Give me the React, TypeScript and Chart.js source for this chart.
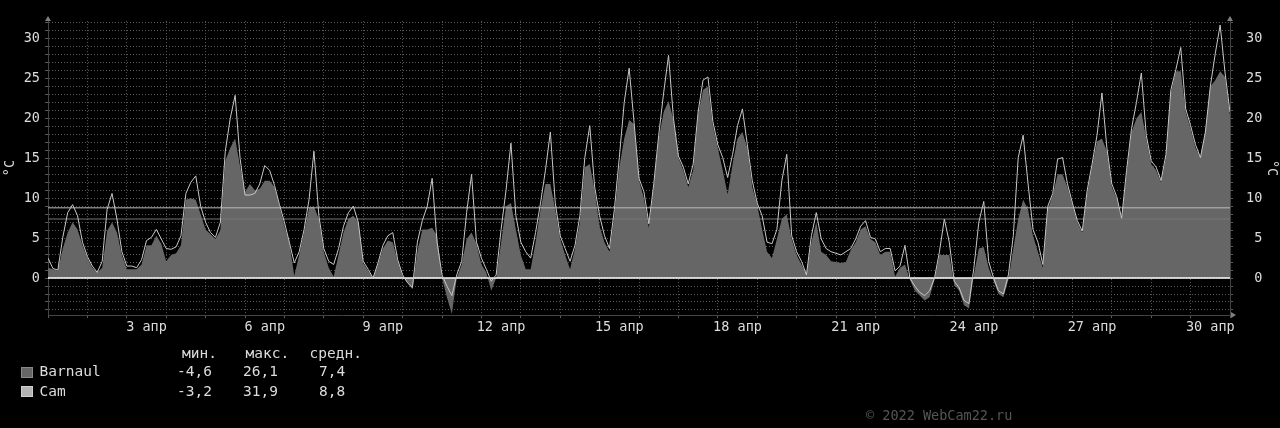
import React, { useEffect, useRef } from "react";
import { Chart, registerables } from "chart.js";

Chart.register(...registerables);

// time axis: samples every 3 hours from 1 апр 00:00 to 1 мая 00:00
const HOURS_PER_SAMPLE = 3;
const TOTAL_HOURS = 720;

const barnaul = [
  1.3, 1.1, 0.9, 3.7, 5.7, 7.0, 6.1, 4.1, 2.5, 1.3,
  0.7, 1.3, 5.9, 7.0, 5.7, 2.9, 1.1, 1.1, 1.1, 1.7,
  4.1, 4.1, 5.3, 4.3, 2.1, 2.9, 3.1, 4.1, 9.8, 10.0,
  9.8, 8.0, 6.1, 5.5, 4.9, 6.0, 14.7, 16.3, 17.5, 14.0,
  10.8, 11.8, 11.0, 11.2, 12.2, 12.2, 11.4, 9.0, 6.5, 4.5,
  0.3, 2.9, 5.7, 8.8, 9.0, 7.4, 3.3, 1.3, 0.2, 2.9,
  5.7, 7.4, 7.8, 7.0, 1.9, 0.9, 0.0, 1.7, 3.7, 4.7,
  4.5, 2.1, 0.2, -0.6, -1.4, 3.3, 6.1, 6.1, 6.3, 5.3,
  0.0, -2.4, -4.5, 0.0, 1.7, 4.9, 5.7, 4.3, 1.7, 0.7,
  -1.6, 0.0, 4.5, 9.0, 9.4, 6.1, 2.9, 1.1, 1.1, 4.5,
  8.6, 11.8, 11.8, 8.6, 4.9, 2.9, 1.1, 3.7, 7.0, 13.9,
  14.3, 11.0, 6.5, 4.5, 3.3, 7.8, 13.9, 17.5, 19.8, 19.3,
  12.3, 10.0, 6.3, 11.4, 17.5, 20.8, 22.2, 19.8, 15.1, 13.5,
  11.4, 13.5, 20.4, 23.6, 24.0, 19.1, 16.3, 13.5, 10.5, 14.3,
  17.5, 18.3, 16.3, 11.4, 9.2, 6.1, 3.3, 2.5, 4.9, 7.4,
  8.0, 4.9, 2.9, 1.7, 0.4, 4.5, 7.0, 3.3, 2.9, 2.1,
  2.0, 1.9, 2.0, 3.5, 4.5, 6.1, 6.5, 4.9, 4.5, 2.9,
  3.3, 3.3, 0.2, 1.3, 1.7, -0.2, -1.6, -2.2, -2.8, -2.4,
  -0.2, 2.9, 2.9, 2.9, -0.8, -1.6, -3.4, -3.8, 0.4, 3.7,
  3.9, 1.3, -0.4, -2.0, -2.4, -0.2, 3.7, 7.4, 9.8, 8.6,
  5.3, 3.3, 1.3, 8.6, 10.4, 13.0, 13.0, 11.4, 9.2, 7.0,
  5.7, 10.6, 14.0, 17.1, 17.5, 15.9, 11.4, 10.0, 7.4, 13.0,
  18.3, 20.0, 20.8, 17.5, 14.3, 13.5, 12.0, 15.1, 23.2, 25.9,
  25.9, 20.8, 18.7, 16.3, 15.1, 18.3, 24.0, 24.8, 25.9, 25.2,
  20.4,
];

const cam = [
  2.5, 1.2, 1.0, 5.1, 8.2, 9.2, 7.8, 4.5, 2.7, 1.5,
  0.7, 2.1, 8.6, 10.6, 7.4, 3.3, 1.5, 1.5, 1.3, 2.3,
  4.7, 5.1, 6.1, 4.9, 3.7, 3.6, 3.9, 5.3, 10.6, 12.0,
  12.8, 9.0, 7.0, 5.7, 5.1, 7.0, 15.9, 20.0, 22.9, 15.0,
  10.4, 10.4, 10.6, 11.8, 14.1, 13.5, 11.6, 9.2, 7.0, 4.5,
  1.9, 3.3, 6.1, 9.8, 15.9, 7.8, 3.7, 2.1, 1.7, 3.7,
  6.5, 8.2, 9.0, 7.0, 2.1, 1.1, 0.0, 1.9, 4.1, 5.3,
  5.7, 2.3, 0.4, -0.6, -1.2, 4.5, 7.2, 9.0, 12.5, 4.5,
  0.4, -1.0, -2.2, 0.4, 2.1, 8.2, 13.0, 4.5, 2.5, 1.1,
  -0.4, 0.4, 6.1, 11.0, 16.9, 7.8, 4.5, 3.3, 2.5, 5.7,
  9.4, 13.5, 18.3, 9.4, 5.3, 3.7, 2.1, 4.1, 7.8, 15.1,
  19.1, 11.4, 7.8, 5.3, 3.7, 8.6, 15.1, 22.0, 26.3, 19.5,
  12.5, 10.8, 6.8, 11.8, 17.9, 23.2, 27.9, 20.0, 15.3, 13.9,
  11.8, 14.3, 20.8, 24.8, 25.2, 19.6, 16.7, 15.1, 12.6, 15.5,
  19.1, 21.2, 16.7, 12.2, 9.4, 7.8, 4.5, 4.3, 6.1, 12.2,
  15.5, 5.3, 3.3, 2.1, 0.4, 5.3, 8.2, 4.9, 3.7, 3.3,
  3.1, 2.9, 3.3, 3.7, 4.9, 6.5, 7.2, 5.1, 4.9, 3.3,
  3.7, 3.7, 0.9, 1.5, 4.1, 0.0, -1.0, -1.8, -2.2, -1.6,
  0.0, 3.3, 7.4, 4.5, -0.4, -1.2, -2.8, -3.2, 1.3, 7.0,
  9.6, 2.1, 0.0, -1.6, -2.0, 0.4, 5.3, 15.1, 17.9, 11.8,
  6.1, 4.5, 1.7, 9.0, 10.6, 14.9, 15.1, 11.8, 9.4, 7.2,
  5.9, 11.0, 14.3, 17.9, 23.2, 16.3, 11.8, 10.2, 7.5, 13.5,
  18.7, 22.0, 25.7, 17.9, 14.7, 13.9, 12.2, 15.5, 23.6, 26.1,
  28.9, 21.2, 19.1, 16.7, 15.1, 18.3, 24.0, 28.1, 31.7, 25.7,
  20.8,
];

const seriesNames = ["Barnaul", "Cam"];
const statHeaders = ["мин.", "макс.", "средн."];
const statMin = ["-4,6", "-3,2"];
const statMax = ["26,1", "31,9"];
const statAvg = ["7,4", "8,8"];
const averages = [7.4, 8.8];

const dayTickDays = [3, 6, 9, 12, 15, 18, 21, 24, 27, 30];
const dayTickLabels = ["3 апр", "6 апр", "9 апр", "12 апр", "15 апр", "18 апр", "21 апр", "24 апр", "27 апр", "30 апр"];
const yLabelValues = [0, 5, 10, 15, 20, 25, 30];
const yAxisTitle = "°C";
const copyright = "© 2022 WebCam22.ru";

const Y_MIN = -4.63;
const Y_MAX = 32.2;

const FONT = "'DejaVu Sans Mono', monospace";
const TEXT = "#dcdcdc";
const GRID = "#5a5a5a";
const AXIS = "#444444";
const BARNAUL_FILL = "#666666";
const CAM_LINE = "#c8c8c8";

const arrowPlugin = {
  id: "rrdArrows",
  afterDraw(chart: any) {
    const { ctx, chartArea: a } = chart;
    ctx.save();
    ctx.fillStyle = "#808080";
    const tri = (p: number[][]) => {
      ctx.beginPath();
      ctx.moveTo(p[0][0], p[0][1]);
      ctx.lineTo(p[1][0], p[1][1]);
      ctx.lineTo(p[2][0], p[2][1]);
      ctx.closePath();
      ctx.fill();
    };
    tri([[a.left - 3, a.top], [a.left + 3, a.top], [a.left, a.top - 5]]);
    tri([[a.right - 3, a.top], [a.right + 3, a.top], [a.right, a.top - 5]]);
    tri([[a.right + 1, a.bottom - 3], [a.right + 1, a.bottom + 3], [a.right + 6, a.bottom]]);
    ctx.restore();
  },
};

export default function App() {
  const ref = useRef<HTMLCanvasElement>(null);

  useEffect(() => {
    const canvas = ref.current;
    if (!canvas) return;
    const toPoints = (arr: number[]) => arr.map((y, i) => ({ x: i * HOURS_PER_SAMPLE, y }));
    const flat = (v: number) => [{ x: 0, y: v }, { x: TOTAL_HOURS, y: v }];
    const tickFont = { family: FONT, size: 13.5 };
    const yTicks = () => {
      const t: any[] = [];
      for (let v = Math.ceil(Y_MIN); v <= Math.floor(Y_MAX); v++) t.push({ value: v });
      return t;
    };
    const yLabel = (v: any) => (yLabelValues.includes(Number(v)) ? String(v) : "");
    // right axis: monospace labels padded to 2 chars so they read right-aligned
    const yLabelRight = (v: any) => (yLabelValues.includes(Number(v)) ? String(v).padStart(2, " ") : "");

    const chart = new Chart(canvas, {
      type: "line",
      data: {
        datasets: [
          { label: "Cam", data: toPoints(cam), borderColor: CAM_LINE, borderWidth: 1, pointRadius: 0, fill: false, tension: 0, order: 0 },
          { label: "zero", data: flat(0), borderColor: "#ffffff", borderWidth: 1.5, pointRadius: 0, fill: false, order: 1 },
          { label: "avgCam", data: flat(averages[1]), borderColor: "#bdbdbd", borderWidth: 1, pointRadius: 0, fill: false, order: 2 },
          { label: "avgBarnaul", data: flat(averages[0]), borderColor: "#777777", borderWidth: 1, pointRadius: 0, fill: false, order: 2 },
          { label: "Barnaul", data: toPoints(barnaul), borderColor: "rgba(0,0,0,0)", borderWidth: 0, backgroundColor: BARNAUL_FILL, fill: "origin", pointRadius: 0, tension: 0, order: 3 },
        ],
      } as any,
      options: {
        responsive: false,
        animation: false,
        events: [],
        layout: { padding: { top: 13, left: 0, right: 0, bottom: 0 } },
        plugins: { legend: { display: false }, tooltip: { enabled: false }, title: { display: false } },
        scales: {
          x: {
            type: "linear",
            position: "bottom",
            min: 0,
            max: TOTAL_HOURS,
            afterBuildTicks: (s: any) => {
              const t: any[] = [];
              for (let h = 0; h <= TOTAL_HOURS; h += 12) t.push({ value: h });
              s.ticks = t;
            },
            afterFit: (s: any) => { s.height = 113; },
            ticks: {
              autoSkip: false,
              maxRotation: 0,
              minRotation: 0,
              color: TEXT,
              font: tickFont,
              padding: 1,
              callback: (v: any) => {
                const h = Number(v);
                if (h % 24 !== 12) return "";
                const day = (h - 12) / 24 + 1;
                const k = dayTickDays.indexOf(day);
                return k >= 0 ? dayTickLabels[k] : "";
              },
            },
            grid: {
              color: (c: any) => (c.tick && c.tick.value % 24 === 0 ? GRID : "rgba(0,0,0,0)"),
              lineWidth: 1,
              tickLength: 3,
            },
            border: { display: true, color: AXIS, dash: [1, 2] },
          },
          y: {
            type: "linear",
            position: "left",
            min: Y_MIN,
            max: Y_MAX,
            afterBuildTicks: (s: any) => { s.ticks = yTicks(); },
            afterFit: (s: any) => { s.width = 48; },
            ticks: { autoSkip: false, color: TEXT, font: tickFont, padding: 5, callback: yLabel },
            grid: { color: GRID, lineWidth: 1, tickLength: 3 },
            border: { display: true, color: AXIS, dash: [1, 2] },
            title: { display: true, text: yAxisTitle, color: TEXT, font: tickFont, padding: { top: 2, bottom: 0 } },
          },
          y2: {
            type: "linear",
            position: "right",
            min: Y_MIN,
            max: Y_MAX,
            afterBuildTicks: (s: any) => { s.ticks = yTicks(); },
            afterFit: (s: any) => { s.width = 50; },
            ticks: { autoSkip: false, color: TEXT, font: tickFont, padding: 13, crossAlign: "near", callback: yLabelRight },
            grid: { color: GRID, lineWidth: 1, tickLength: 3, drawOnChartArea: false },
            border: { display: true, color: AXIS, dash: [1, 2] },
            title: { display: true, text: yAxisTitle, color: TEXT, font: tickFont, padding: { top: 0, bottom: 0 } },
          },
        },
      } as any,
      plugins: [arrowPlugin],
    });
    return () => chart.destroy();
  }, []);

  const legendFont: React.CSSProperties = {
    position: "absolute",
    fontFamily: FONT,
    fontSize: 14.5,
    lineHeight: "16px",
    whiteSpace: "pre",
    color: TEXT,
  };
  const headerLeft = [182, 245.5, 309.5];
  const colLeft = [177, 243, 319];
  const rowTop = [363, 382.5];
  const swatch = [
    { bg: "#666666", border: "#8a8a8a" },
    { bg: "#b4b4b4", border: "#d0d0d0" },
  ];

  return (
    <div style={{ position: "fixed", left: 0, top: 0, width: 1280, height: 428, background: "#000", overflow: "hidden" }}>
      <canvas ref={ref} width={1280} height={428} style={{ position: "absolute", left: 0, top: 0, width: 1280, height: 428 }} />
      {statHeaders.map((h, i) => (
        <div key={"h" + i} style={{ ...legendFont, left: headerLeft[i], top: 345 }}>{h}</div>
      ))}
      {seriesNames.map((name, r) => (
        <React.Fragment key={name}>
          <div style={{ position: "absolute", left: 21, top: rowTop[r] + 3.5, width: 12, height: 11, boxSizing: "border-box", background: swatch[r].bg, border: `1px solid ${swatch[r].border}` }} />
          <div style={{ ...legendFont, left: 39.5, top: rowTop[r] }}>{name}</div>
          <div style={{ ...legendFont, left: colLeft[0], top: rowTop[r] }}>{statMin[r]}</div>
          <div style={{ ...legendFont, left: colLeft[1], top: rowTop[r] }}>{statMax[r]}</div>
          <div style={{ ...legendFont, left: colLeft[2], top: rowTop[r] }}>{statAvg[r]}</div>
        </React.Fragment>
      ))}
      <div style={{ ...legendFont, fontSize: 13.5, color: "#555555", left: 866, top: 407 }}>{copyright}</div>
    </div>
  );
}
